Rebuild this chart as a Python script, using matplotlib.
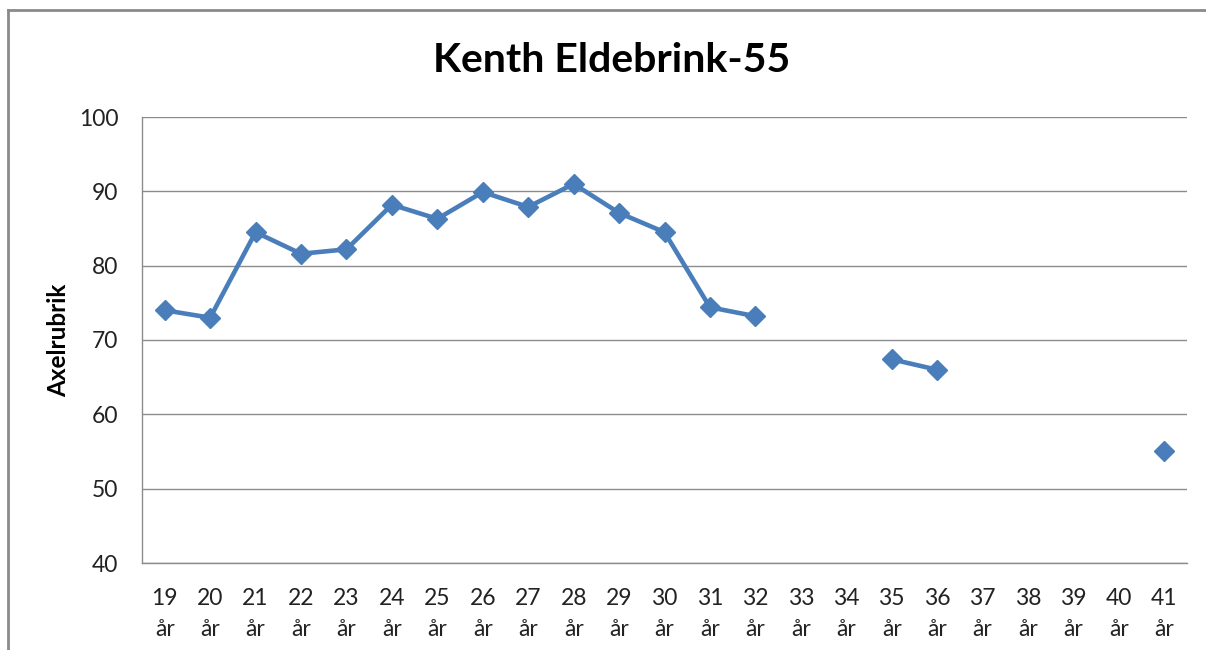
import numpy as np
import matplotlib
matplotlib.use("Agg")
import matplotlib.pyplot as plt
from matplotlib.lines import Line2D

plt.rcParams['font.family'] = ['Lato', 'DejaVu Sans']

ages = [19, 20, 21, 22, 23, 24, 25, 26, 27, 28, 29, 30, 31, 32, 33, 34, 35, 36, 37, 38, 39, 40, 41]
values = [74.0, 73.0, 84.5, 81.6, 82.2, 88.2, 86.3, 89.9, 87.9, 91.0, 87.1, 84.5, 74.4, 73.2,
          None, None, 67.4, 66.0, None, None, None, None, 55.0]
tick_labels = [f"{a}\når" for a in ages]
title = "Kenth Eldebrink-55"
ylabel = "Axelrubrik"
yticks = [40, 50, 60, 70, 80, 90, 100]

y = np.array([np.nan if v is None else v for v in values], dtype=float)
x = np.arange(len(ages))

fig = plt.figure(figsize=(12.06, 6.5), dpi=100)
ax = fig.add_axes([142/1206, 1 - 563/650, (1187-142)/1206, (563-117)/650])

blue = '#4A7EBB'
ax.plot(x, y, color=blue, linewidth=3.3, marker='D', markersize=10.5,
        markerfacecolor=blue, markeredgecolor=blue, solid_joinstyle='round', zorder=3)

ax.set_xlim(-0.5, len(ages) - 0.5)
ax.set_ylim(40, 100)
ax.set_yticks(yticks)
ax.set_xticks(x)
ax.set_xticklabels(tick_labels, linespacing=1.6)
ax.tick_params(axis='both', length=0, labelsize=16.5, colors='#222222')
ax.tick_params(axis='y', pad=17)
ax.tick_params(axis='x', pad=18)
ax.grid(axis='y', color='#8c8c8c', linewidth=1.0)
ax.set_axisbelow(True)
for s in ['top', 'right']:
    ax.spines[s].set_visible(False)
for s in ['left', 'bottom']:
    ax.spines[s].set_color('#8c8c8c')
    ax.spines[s].set_linewidth(1.0)

ax.set_ylabel(ylabel, fontsize=17.5, fontweight='bold')
ax.yaxis.set_label_coords(-0.069, 0.5)

fig.text(612/1206, 1 - 60/650, title, fontsize=29.5, fontweight='bold',
         ha='center', va='center', color='black')

# outer chart frame (top and left edges visible)
fig.add_artist(Line2D([8/1206, 1.0], [1 - 10/650, 1 - 10/650], transform=fig.transFigure,
                      color='#8a8a8a', linewidth=2))
fig.add_artist(Line2D([8/1206, 8/1206], [0, 1 - 10/650], transform=fig.transFigure,
                      color='#8a8a8a', linewidth=2))

fig.savefig("out.png", dpi=100, facecolor='white')
